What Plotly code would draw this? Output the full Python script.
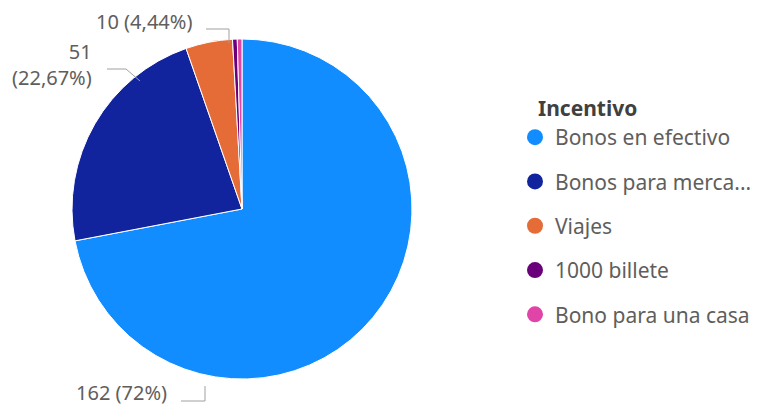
import plotly.graph_objects as go

labels = ["Bonos en efectivo", "Bonos para merca...", "Viajes", "1000 billete", "Bono para una casa"]
values = [162, 51, 10, 1, 1]
colors = ["#118DFF", "#12239E", "#E66C37", "#6B007B", "#E044A7"]

# outside labels (only the three largest slices carry a label)
label_text = ["162 (72%)", "51<br>(22,67%)", "10 (4,44%)"]

W, H = 759, 407
FONT = "Noto Sans"
TEXT = "#605E5C"

fig = go.Figure()

fig.add_trace(go.Pie(
    labels=labels,
    values=values,
    sort=False,
    direction="clockwise",
    rotation=0,
    marker={"colors": colors, "line": {"color": "white", "width": 1}},
    textinfo="none",
    hoverinfo="label+value+percent",
    showlegend=False,
    domain={"x": [64 / W, 404 / W], "y": [(H - 371) / H, (H - 31) / H]},
))

# legend entries with round markers
for name, col in zip(labels, colors):
    fig.add_trace(go.Scatter(
        x=[None], y=[None], mode="markers", name=name,
        legendgroup=name,
        marker={"symbol": "circle", "size": 16, "color": col},
    ))


def px(x, y):
    return x / W, 1 - y / H


# leader lines (paper coords from pixel positions)
leaders = [
    [(173, 393), (197, 393), (197, 378)],
    [(99, 61), (118, 61), (132, 73)],
    [(198, 21), (221, 21), (221, 35)],
]
for pts in leaders:
    path = "M " + " L ".join(f"{px(x, y)[0]},{px(x, y)[1]}" for x, y in pts)
    fig.add_shape(type="path", path=path, xref="paper", yref="paper",
                  line={"color": "#A0A0A0", "width": 1})

label_pos = [(161, 384), (86, 56), (186, 14)]
for txt, (x, y) in zip(label_text, label_pos):
    fx, fy = px(x, y)
    fig.add_annotation(x=fx, y=fy, xref="paper", yref="paper", text=txt,
                       showarrow=False, xanchor="right", yanchor="middle", align="right",
                       font={"family": FONT, "size": 20, "color": TEXT})

# legend title
tx, ty = px(528, 100)
fig.add_annotation(x=tx, y=ty, xref="paper", yref="paper", text="<b>Incentivo</b>",
                   showarrow=False, xanchor="left", yanchor="middle",
                   font={"family": FONT, "size": 21, "color": "#404040"})

fig.update_layout(
    width=W,
    height=H,
    margin={"l": 0, "r": 0, "t": 0, "b": 0},
    paper_bgcolor="white",
    plot_bgcolor="white",
    font={"family": FONT, "size": 17, "color": TEXT},
    xaxis={"visible": False},
    yaxis={"visible": False},
    legend={
        "x": 507 / W,
        "y": 1 - 109 / H,
        "xanchor": "left",
        "yanchor": "top",
        "tracegroupgap": 14,
        "itemwidth": 30,
        "font": {"family": FONT, "size": 21, "color": TEXT},
    },
)

fig.write_html("out.html")
